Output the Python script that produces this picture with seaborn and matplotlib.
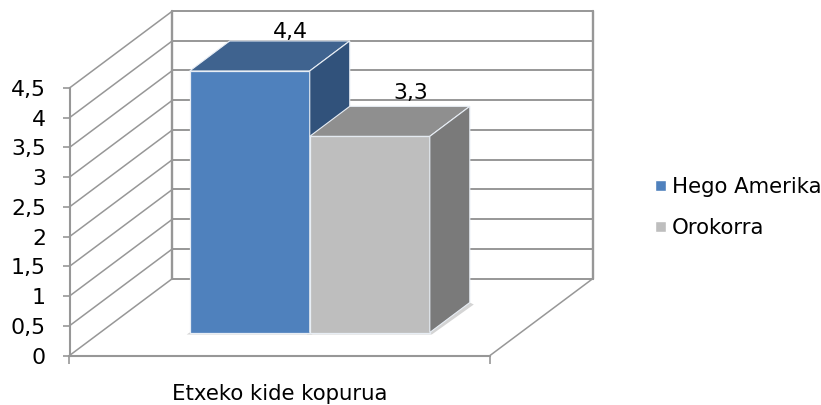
import pandas as pd
import numpy as np
import matplotlib
matplotlib.use("Agg")
import matplotlib.pyplot as plt
import seaborn as sns
from matplotlib.patches import Polygon
from matplotlib.transforms import Affine2D

categories = ["Etxeko kide kopurua"]
series_names = ["Hego Amerika", "Orokorra"]
series_values = [4.4, 3.3]
value_labels = ["4,4", "3,3"]
y_ticks = [0, 0.5, 1, 1.5, 2, 2.5, 3, 3.5, 4, 4.5]
y_tick_labels = ["0", "0,5", "1", "1,5", "2", "2,5", "3", "3,5", "4", "4,5"]

front_colors = ["#4F81BD", "#BEBEBE"]
top_colors = ["#3F638F", "#8F8F8F"]
side_colors = ["#31527B", "#7A7A7A"]
line_color = "#979797"

W, H = 821, 405
WALL_DX, WALL_DY = 103, 77   # back wall offset in px
BAR_DX, BAR_DY = 30, 23      # bars sit this far behind the front plane
DEPTH_DX, DEPTH_DY = 40, 30  # depth of one bar

sns.set_theme(style="white")
plt.rcParams["font.family"] = ["DejaVu Sans"]
plt.rcParams["text.color"] = "black"

df = pd.DataFrame({
    "group": categories * len(series_names),
    "series": series_names,
    "value": series_values,
})

fig = plt.figure(figsize=(W / 100, H / 100), dpi=100, facecolor="white")
ax = fig.add_axes([69.5 / W, (H - 355.5) / H, 420.5 / W, 267.5 / H])
ax.patch.set_alpha(0)

sns.barplot(data=df, x="group", y="value", hue="series", hue_order=series_names,
            palette=front_colors, width=0.571, gap=0, saturation=1, ax=ax, zorder=5)
ax.set_xlim(-0.5, 0.5)
ax.set_ylim(0, 4.5)

wall = ax.transData + Affine2D().translate(WALL_DX, WALL_DY)
bar_shift = ax.transData + Affine2D().translate(BAR_DX, BAR_DY)

# back wall, left wall and floor
for t in y_ticks:
    ax.plot([-0.5, 0.5], [t, t], transform=wall, color=line_color, lw=1.4, clip_on=False, zorder=1)
    p0 = ax.transData.transform((-0.5, t))
    fig.add_artist(plt.Line2D([p0[0], p0[0] + WALL_DX], [p0[1], p0[1] + WALL_DY],
                              transform=None, color=line_color, lw=1.1, zorder=1))
for x in [-0.5, 0.5]:
    ax.plot([x, x], [0, 4.5], transform=wall, color=line_color, lw=1.7, clip_on=False, zorder=1)
p0 = ax.transData.transform((0.5, 0))
fig.add_artist(plt.Line2D([p0[0], p0[0] + WALL_DX], [p0[1], p0[1] + WALL_DY],
                          transform=None, color=line_color, lw=1.1, zorder=1))

# bars get pushed back and get their top and side faces
for i, bar in enumerate(ax.patches[:len(series_values)]):
    bar.set_transform(bar_shift)
    bar.set_clip_on(False)
    bar.set_edgecolor("#E8EEF5")
    bar.set_linewidth(0.9)
    bar.set_zorder(5 + i * 2)

    x0, x1 = bar.get_x(), bar.get_x() + bar.get_width()
    top = bar.get_height()
    a = bar_shift.transform((x0, top))
    b = bar_shift.transform((x1, top))
    c = bar_shift.transform((x1, 0))
    d = np.array([DEPTH_DX, DEPTH_DY])

    # soft shadow on the floor
    s = np.array([4, -2])
    base = bar_shift.transform((x0, 0))
    ax.add_patch(Polygon([base + [-3, -2], c + [2, -2], c + d + s, c + d, c, base],
                         transform=None, facecolor="#D4D4D4", edgecolor="none",
                         clip_on=False, zorder=4))

    ax.add_patch(Polygon([a, b, b + d, a + d], transform=None, facecolor=top_colors[i],
                         edgecolor="#E8EEF5", lw=0.8, clip_on=False, zorder=5 + i * 2))
    ax.add_patch(Polygon([b, c, c + d, b + d], transform=None, facecolor=side_colors[i],
                         edgecolor="#E8EEF5", lw=0.8, clip_on=False, zorder=5 + i * 2))

    label_pos = a + d + [(b[0] - a[0]) / 2, 0]
    ax.annotate(value_labels[i], xy=label_pos, xycoords="figure pixels",
                xytext=(1, -1 if i == 0 else 3), textcoords="offset pixels",
                ha="center", va="bottom", fontsize=15.8, color="black",
                zorder=20, annotation_clip=False)

# axes
sns.despine(ax=ax, top=True, right=True)
for name in ["left", "bottom"]:
    ax.spines[name].set_color(line_color)
    ax.spines[name].set_linewidth(1.5)
    ax.spines[name].set_zorder(2)
ax.set_yticks(y_ticks, labels=y_tick_labels)
ax.set_xticks([-0.5, 0.5], labels=["", ""])
ax.tick_params(axis="y", length=5, width=1.2, color=line_color, pad=12, labelsize=15.8,
               labelcolor="black", left=True)
ax.tick_params(axis="x", length=5.5, width=1.2, color=line_color, bottom=True)
ax.set_ylabel("")
ax.set_xlabel(categories[0], fontsize=15.3, color="black", labelpad=11.5)

handles, labels = ax.get_legend_handles_labels()
ax.legend(handles, labels, loc="center left", bbox_to_anchor=(654.5 / W, (H - 207.5) / H),
          bbox_transform=fig.transFigure, frameon=False, fontsize=15.3, labelcolor="black",
          handlelength=0.55, handleheight=0.42, handletextpad=0.27, labelspacing=0.97,
          borderpad=0, borderaxespad=0)

fig.savefig("out.png", dpi=100, facecolor="white")
